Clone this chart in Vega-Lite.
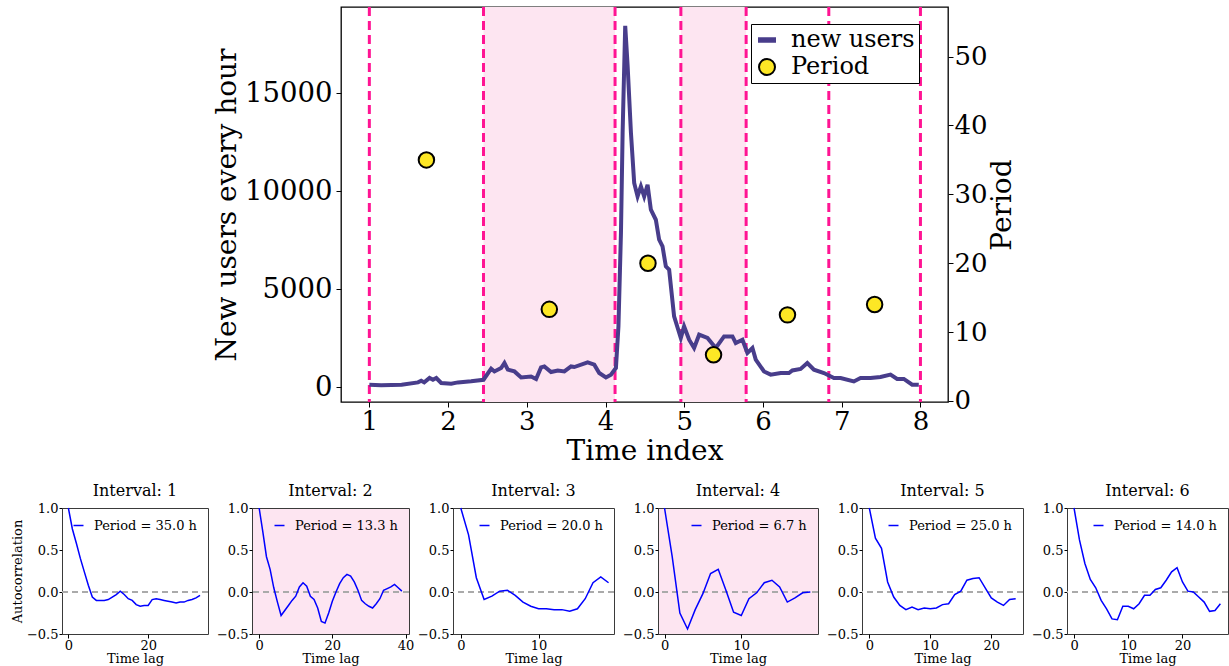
{
 "$schema": "https://vega.github.io/schema/vega-lite/v6.json",
 "padding": {"top": 4, "left": 10, "right": 0, "bottom": 0},
 "background": "white",
 "config": {
  "font": "DejaVu Serif",
  "view": {"stroke": "#3a3a3a"},
  "axis": {"labelFont": "DejaVu Serif", "titleFont": "DejaVu Serif", "labelColor": "black", "titleColor": "black", "titleFontWeight": "normal", "tickColor": "black", "grid": false, "domain": false, "labelFlush": false, "labelOverlap": false, "labelBound": false},
  "title": {"font": "DejaVu Serif", "fontWeight": "normal", "color": "black", "fontSize": 16, "offset": 3},
  "legend": {"labelFont": "DejaVu Serif", "labelColor": "black"}
 },
 "datasets": {
  "users": [{"t":1.0,"users":130},{"t":1.15,"users":100},{"t":1.41,"users":130},{"t":1.618,"users":245},{"t":1.659,"users":330},{"t":1.697,"users":245},{"t":1.765,"users":470},{"t":1.808,"users":380},{"t":1.85,"users":470},{"t":1.913,"users":215},{"t":2.04,"users":180},{"t":2.125,"users":245},{"t":2.293,"users":300},{"t":2.45,"users":380},{"t":2.547,"users":945},{"t":2.589,"users":805},{"t":2.674,"users":980},{"t":2.716,"users":1235},{"t":2.759,"users":895},{"t":2.843,"users":805},{"t":2.928,"users":500},{"t":3.054,"users":550},{"t":3.118,"users":420},{"t":3.181,"users":1010},{"t":3.223,"users":1060},{"t":3.308,"users":775},{"t":3.393,"users":855},{"t":3.477,"users":805},{"t":3.562,"users":1060},{"t":3.603,"users":1030},{"t":3.773,"users":1265},{"t":3.857,"users":1150},{"t":3.92,"users":725},{"t":4.005,"users":500},{"t":4.069,"users":640},{"t":4.132,"users":980},{"t":4.164,"users":3100},{"t":4.196,"users":7880},{"t":4.217,"users":12970},{"t":4.25,"users":18440},{"t":4.281,"users":16370},{"t":4.323,"users":12970},{"t":4.364,"users":10420},{"t":4.407,"users":9735},{"t":4.449,"users":10245},{"t":4.491,"users":9735},{"t":4.534,"users":10330},{"t":4.576,"users":9055},{"t":4.639,"users":8545},{"t":4.681,"users":7525},{"t":4.724,"users":7185},{"t":4.766,"users":6165},{"t":4.808,"users":5995},{"t":4.871,"users":3610},{"t":4.956,"users":2510},{"t":4.998,"users":3100},{"t":5.062,"users":2425},{"t":5.125,"users":2000},{"t":5.189,"users":2680},{"t":5.295,"users":2510},{"t":5.4,"users":2000},{"t":5.506,"users":2590},{"t":5.612,"users":2590},{"t":5.654,"users":2255},{"t":5.739,"users":2425},{"t":5.802,"users":1745},{"t":5.866,"users":2000},{"t":5.908,"users":1405},{"t":6.013,"users":805},{"t":6.098,"users":640},{"t":6.225,"users":725},{"t":6.33,"users":725},{"t":6.373,"users":855},{"t":6.478,"users":930},{"t":6.563,"users":1235},{"t":6.647,"users":895},{"t":6.774,"users":725},{"t":6.901,"users":470},{"t":6.986,"users":470},{"t":7.154,"users":295},{"t":7.239,"users":470},{"t":7.366,"users":470},{"t":7.493,"users":520},{"t":7.62,"users":640},{"t":7.704,"users":420},{"t":7.789,"users":420},{"t":7.895,"users":128},{"t":7.979,"users":128}],
  "shade": [{"start": 2.45, "end": 4.121}, {"start": 4.957, "end": 5.786}],
  "bounds": [{"t": 1.0}, {"t": 2.45}, {"t": 4.121}, {"t": 4.957}, {"t": 5.786}, {"t": 6.836}, {"t": 8.0}],
  "periods": [{"mid": 1.725, "period": 35.0, "series": "Period"}, {"mid": 3.286, "period": 13.3, "series": "Period"}, {"mid": 4.539, "period": 20.0, "series": "Period"}, {"mid": 5.372, "period": 6.7, "series": "Period"}, {"mid": 6.311, "period": 12.5, "series": "Period"}, {"mid": 7.418, "period": 14.0, "series": "Period"}],
  "a1": [{"lag":0,"acf":1.0},{"lag":1,"acf":0.75},{"lag":2,"acf":0.58},{"lag":3,"acf":0.40},{"lag":4,"acf":0.24},{"lag":5,"acf":0.08},{"lag":6,"acf":-0.06},{"lag":7,"acf":-0.10},{"lag":8,"acf":-0.10},{"lag":9,"acf":-0.10},{"lag":10,"acf":-0.09},{"lag":11,"acf":-0.06},{"lag":12,"acf":-0.03},{"lag":13,"acf":0.01},{"lag":14,"acf":-0.03},{"lag":15,"acf":-0.08},{"lag":16,"acf":-0.10},{"lag":17,"acf":-0.15},{"lag":18,"acf":-0.17},{"lag":19,"acf":-0.16},{"lag":20,"acf":-0.16},{"lag":21,"acf":-0.09},{"lag":22,"acf":-0.08},{"lag":23,"acf":-0.09},{"lag":24,"acf":-0.10},{"lag":25,"acf":-0.11},{"lag":26,"acf":-0.12},{"lag":27,"acf":-0.13},{"lag":28,"acf":-0.12},{"lag":29,"acf":-0.12},{"lag":30,"acf":-0.10},{"lag":31,"acf":-0.09},{"lag":32,"acf":-0.07},{"lag":33,"acf":-0.04}],
  "a2": [{"lag":0,"acf":1.0},{"lag":1,"acf":0.72},{"lag":2,"acf":0.42},{"lag":3,"acf":0.27},{"lag":4,"acf":0.05},{"lag":5,"acf":-0.12},{"lag":6,"acf":-0.28},{"lag":7,"acf":-0.22},{"lag":8,"acf":-0.16},{"lag":9,"acf":-0.10},{"lag":10,"acf":-0.05},{"lag":11,"acf":0.06},{"lag":12,"acf":0.11},{"lag":13,"acf":0.07},{"lag":14,"acf":-0.05},{"lag":15,"acf":-0.09},{"lag":16,"acf":-0.19},{"lag":17,"acf":-0.35},{"lag":18,"acf":-0.37},{"lag":19,"acf":-0.25},{"lag":20,"acf":-0.11},{"lag":21,"acf":0.0},{"lag":22,"acf":0.1},{"lag":23,"acf":0.17},{"lag":24,"acf":0.21},{"lag":25,"acf":0.19},{"lag":26,"acf":0.12},{"lag":27,"acf":0.02},{"lag":28,"acf":-0.1},{"lag":29,"acf":-0.14},{"lag":30,"acf":-0.17},{"lag":31,"acf":-0.19},{"lag":32,"acf":-0.14},{"lag":33,"acf":-0.08},{"lag":34,"acf":0.02},{"lag":35,"acf":0.04},{"lag":36,"acf":0.06},{"lag":37,"acf":0.09},{"lag":38,"acf":0.05},{"lag":39,"acf":0.01}],
  "a3": [{"lag":0,"acf":1.0},{"lag":1,"acf":0.68},{"lag":2,"acf":0.17},{"lag":3,"acf":-0.09},{"lag":4,"acf":-0.05},{"lag":5,"acf":0.01},{"lag":6,"acf":0.02},{"lag":7,"acf":-0.04},{"lag":8,"acf":-0.12},{"lag":9,"acf":-0.17},{"lag":10,"acf":-0.2},{"lag":11,"acf":-0.2},{"lag":12,"acf":-0.21},{"lag":13,"acf":-0.21},{"lag":14,"acf":-0.23},{"lag":15,"acf":-0.2},{"lag":16,"acf":-0.08},{"lag":17,"acf":0.11},{"lag":18,"acf":0.18},{"lag":19,"acf":0.11}],
  "a4": [{"lag":0,"acf":1.0},{"lag":1,"acf":0.42},{"lag":2,"acf":-0.25},{"lag":3,"acf":-0.44},{"lag":4,"acf":-0.21},{"lag":5,"acf":-0.02},{"lag":6,"acf":0.22},{"lag":7,"acf":0.27},{"lag":8,"acf":0.02},{"lag":9,"acf":-0.24},{"lag":10,"acf":-0.28},{"lag":11,"acf":-0.08},{"lag":12,"acf":-0.01},{"lag":13,"acf":0.11},{"lag":14,"acf":0.14},{"lag":15,"acf":0.06},{"lag":16,"acf":-0.12},{"lag":17,"acf":-0.07},{"lag":18,"acf":-0.01},{"lag":19,"acf":0.0}],
  "a5": [{"lag":0,"acf":1.0},{"lag":1,"acf":0.64},{"lag":2,"acf":0.52},{"lag":3,"acf":0.12},{"lag":4,"acf":-0.06},{"lag":5,"acf":-0.16},{"lag":6,"acf":-0.21},{"lag":7,"acf":-0.18},{"lag":8,"acf":-0.21},{"lag":9,"acf":-0.19},{"lag":10,"acf":-0.2},{"lag":11,"acf":-0.19},{"lag":12,"acf":-0.15},{"lag":13,"acf":-0.14},{"lag":14,"acf":-0.03},{"lag":15,"acf":0.01},{"lag":16,"acf":0.14},{"lag":17,"acf":0.16},{"lag":18,"acf":0.17},{"lag":19,"acf":0.05},{"lag":20,"acf":-0.07},{"lag":21,"acf":-0.12},{"lag":22,"acf":-0.16},{"lag":23,"acf":-0.09},{"lag":24,"acf":-0.08}],
  "a6": [{"lag":0,"acf":1.0},{"lag":1,"acf":0.62},{"lag":2,"acf":0.34},{"lag":3,"acf":0.15},{"lag":4,"acf":0.05},{"lag":5,"acf":-0.1},{"lag":6,"acf":-0.2},{"lag":7,"acf":-0.32},{"lag":8,"acf":-0.33},{"lag":9,"acf":-0.17},{"lag":10,"acf":-0.17},{"lag":11,"acf":-0.2},{"lag":12,"acf":-0.14},{"lag":13,"acf":-0.04},{"lag":14,"acf":-0.04},{"lag":15,"acf":0.03},{"lag":16,"acf":0.05},{"lag":17,"acf":0.14},{"lag":18,"acf":0.24},{"lag":19,"acf":0.29},{"lag":20,"acf":0.12},{"lag":21,"acf":0.01},{"lag":22,"acf":0.0},{"lag":23,"acf":-0.06},{"lag":24,"acf":-0.12},{"lag":25,"acf":-0.23},{"lag":26,"acf":-0.22},{"lag":27,"acf":-0.14}],
  "labels": [{"iv": 1, "lbl": "Period = 35.0 h"}, {"iv": 2, "lbl": "Period = 13.3 h"}, {"iv": 3, "lbl": "Period = 20.0 h"}, {"iv": 4, "lbl": "Period = 6.7 h"}, {"iv": 5, "lbl": "Period = 25.0 h"}, {"iv": 6, "lbl": "Period = 14.0 h"}]
 },
 "spacing": 16,
 "resolve": {"scale": {"color": "independent", "fill": "independent", "stroke": "independent", "shape": "independent"}, "legend": {"color": "independent", "fill": "independent", "stroke": "independent", "shape": "independent"}},
 "vconcat": [
  {
   "spacing": 0,
   "resolve": {"legend": {"fill": "independent", "stroke": "independent", "shape": "independent"}},
   "hconcat": [
    {"width": 150, "height": 10, "data": {"values": []}, "mark": "point", "view": {"stroke": null}},
    {
     "width": 607, "height": 395,
     "view": {"stroke": "black", "strokeWidth": 1.3},
     "resolve": {"scale": {"y": "independent"}},
     "layer": [
      {"data": {"name": "shade"}, "mark": {"type": "rect", "color": "#fde5f1"},
       "encoding": {
        "x": {"field": "start", "type": "quantitative", "scale": {"domain": [0.64, 8.35], "nice": false, "zero": false},
              "axis": {"title": "Time index", "values": [1,2,3,4,5,6,7,8], "format": "d", "labelFontSize": 26, "titleFontSize": 28, "tickSize": 5, "labelPadding": 1, "titlePadding": 3}},
        "x2": {"field": "end"}}},
      {"data": {"name": "bounds"}, "mark": {"type": "rule", "color": "#ff1493", "strokeWidth": 3, "strokeDash": [9, 5]},
       "encoding": {"x": {"field": "t", "type": "quantitative"}}},
      {"data": {"name": "users"}, "mark": {"type": "line", "strokeWidth": 4, "color": "#483d8b"},
       "encoding": {
        "x": {"field": "t", "type": "quantitative"},
        "y": {"field": "users", "type": "quantitative", "scale": {"domain": [-755, 19400], "nice": false, "zero": false},
              "axis": {"title": "New users every hour", "values": [0, 5000, 10000, 15000], "format": "d", "labelFontSize": 27.5, "titleFontSize": 28, "tickSize": 5, "labelPadding": 4, "titlePadding": 3}}}},
      {"data": {"name": "periods"}, "mark": {"type": "point", "filled": true, "size": 240, "strokeWidth": 2, "opacity": 1},
       "encoding": {
        "x": {"field": "mid", "type": "quantitative"},
        "y": {"field": "period", "type": "quantitative", "scale": {"domain": [-0.15, 57.2], "nice": false, "zero": false},
              "axis": {"orient": "right", "title": "Period", "values": [0, 10, 20, 30, 40, 50], "labelFontSize": 26, "titleFontSize": 28, "tickSize": 5, "labelPadding": 1, "titlePadding": 1, "titleAngle": 270, "titleBaseline": "top"}},
        "fill": {"field": "series", "type": "nominal", "scale": {"domain": ["new users", "Period"], "range": ["#483d8b", "#fde725"]},
         "legend": {"title": null, "orient": "none", "legendX": 410, "legendY": 17, "labelFontSize": 24, "strokeColor": "black", "fillColor": "white", "padding": 4, "rowPadding": 3, "labelOffset": 12, "symbolSize": 256, "symbolStrokeWidth": 2}},
        "stroke": {"field": "series", "type": "nominal", "scale": {"domain": ["new users", "Period"], "range": ["#483d8b", "black"]},
         "legend": {"title": null, "orient": "none", "legendX": 410, "legendY": 17, "labelFontSize": 24, "strokeColor": "black", "fillColor": "white", "padding": 4, "rowPadding": 3, "labelOffset": 12, "symbolSize": 256, "symbolStrokeWidth": 2}},
        "shape": {"field": "series", "type": "nominal", "scale": {"domain": ["new users", "Period"], "range": ["M-1,-0.22H1V0.22H-1Z", "circle"]},
         "legend": {"title": null, "orient": "none", "legendX": 410, "legendY": 17, "labelFontSize": 24, "strokeColor": "black", "fillColor": "white", "padding": 4, "rowPadding": 3, "labelOffset": 12, "symbolSize": 256, "symbolStrokeWidth": 2}}}}
     ]
    }
   ]
  },
  {
   "hconcat": [
    {"width": 146, "height": 126, "title": "Interval: 1", "data": {"name": "a1"},
     "layer": [
      {"mark": {"type": "rule", "color": "#aaaaaa", "strokeWidth": 1.5, "strokeDash": [6, 4]}, "encoding": {"y": {"datum": 0, "type": "quantitative"}}},
      {"mark": {"type": "line", "strokeWidth": 1.5, "color": "#0000ff"},
       "encoding": {
        "x": {"field": "lag", "type": "quantitative", "scale": {"domain": [-1.6, 35.0], "nice": false, "zero": false}, "axis": {"title": "Time lag", "values": [0, 20], "labelFontSize": 13, "titleFontSize": 13, "tickSize": 4, "labelPadding": 1, "titlePadding": 0}},
        "y": {"field": "acf", "type": "quantitative", "scale": {"domain": [-0.5, 1.0], "nice": false, "zero": false}, "axis": {"title": "Autocorrelation", "values": [-0.5, 0, 0.5, 1], "format": ".1f", "labelFontSize": 13, "titleFontSize": 13, "tickSize": 3, "labelPadding": 1, "titlePadding": 2}}}},
      {"data": {"name": "labels"}, "transform": [{"filter": "datum.iv === 1"}], "mark": {"type": "point", "opacity": 0},
       "encoding": {"color": {"field": "lbl", "type": "nominal", "scale": {"range": ["#0000ff"]}, "legend": {"title": null, "orient": "top-right", "offset": 9, "padding": 2, "labelFontSize": 13, "symbolType": "stroke", "symbolSize": 100, "symbolStrokeWidth": 1.5, "symbolOpacity": 1, "labelOffset": 9}}}}
     ]},
    {"width": 157, "height": 126, "title": "Interval: 2", "data": {"name": "a2"}, "view": {"fill": "#fde5f1", "stroke": "#3a3a3a"},
     "layer": [
      {"mark": {"type": "rule", "color": "#aaaaaa", "strokeWidth": 1.5, "strokeDash": [6, 4]}, "encoding": {"y": {"datum": 0, "type": "quantitative"}}},
      {"mark": {"type": "line", "strokeWidth": 1.5, "color": "#0000ff"},
       "encoding": {
        "x": {"field": "lag", "type": "quantitative", "scale": {"domain": [-1.95, 40.95], "nice": false, "zero": false}, "axis": {"title": "Time lag", "values": [0, 20, 40], "labelFontSize": 13, "titleFontSize": 13, "tickSize": 4, "labelPadding": 1, "titlePadding": 0}},
        "y": {"field": "acf", "type": "quantitative", "scale": {"domain": [-0.5, 1.0], "nice": false, "zero": false}, "axis": {"title": null, "values": [-0.5, 0, 0.5, 1], "format": ".1f", "labelFontSize": 13, "tickSize": 3, "labelPadding": 1}}}},
      {"data": {"name": "labels"}, "transform": [{"filter": "datum.iv === 2"}], "mark": {"type": "point", "opacity": 0},
       "encoding": {"color": {"field": "lbl", "type": "nominal", "scale": {"range": ["#0000ff"]}, "legend": {"title": null, "orient": "top-right", "offset": 9, "padding": 2, "labelFontSize": 13, "symbolType": "stroke", "symbolSize": 100, "symbolStrokeWidth": 1.5, "symbolOpacity": 1, "labelOffset": 9}}}}
     ]},
    {"width": 161, "height": 126, "title": "Interval: 3", "data": {"name": "a3"},
     "layer": [
      {"mark": {"type": "rule", "color": "#aaaaaa", "strokeWidth": 1.5, "strokeDash": [6, 4]}, "encoding": {"y": {"datum": 0, "type": "quantitative"}}},
      {"mark": {"type": "line", "strokeWidth": 1.5, "color": "#0000ff"},
       "encoding": {
        "x": {"field": "lag", "type": "quantitative", "scale": {"domain": [-1.0, 19.7], "nice": false, "zero": false}, "axis": {"title": "Time lag", "values": [0, 10], "labelFontSize": 13, "titleFontSize": 13, "tickSize": 4, "labelPadding": 1, "titlePadding": 0}},
        "y": {"field": "acf", "type": "quantitative", "scale": {"domain": [-0.5, 1.0], "nice": false, "zero": false}, "axis": {"title": null, "values": [-0.5, 0, 0.5, 1], "format": ".1f", "labelFontSize": 13, "tickSize": 3, "labelPadding": 1}}}},
      {"data": {"name": "labels"}, "transform": [{"filter": "datum.iv === 3"}], "mark": {"type": "point", "opacity": 0},
       "encoding": {"color": {"field": "lbl", "type": "nominal", "scale": {"range": ["#0000ff"]}, "legend": {"title": null, "orient": "top-right", "offset": 9, "padding": 2, "labelFontSize": 13, "symbolType": "stroke", "symbolSize": 100, "symbolStrokeWidth": 1.5, "symbolOpacity": 1, "labelOffset": 9}}}}
     ]},
    {"width": 160, "height": 126, "title": "Interval: 4", "data": {"name": "a4"}, "view": {"fill": "#fde5f1", "stroke": "#3a3a3a"},
     "layer": [
      {"mark": {"type": "rule", "color": "#aaaaaa", "strokeWidth": 1.5, "strokeDash": [6, 4]}, "encoding": {"y": {"datum": 0, "type": "quantitative"}}},
      {"mark": {"type": "line", "strokeWidth": 1.5, "color": "#0000ff"},
       "encoding": {
        "x": {"field": "lag", "type": "quantitative", "scale": {"domain": [-0.85, 20.0], "nice": false, "zero": false}, "axis": {"title": "Time lag", "values": [0, 10], "labelFontSize": 13, "titleFontSize": 13, "tickSize": 4, "labelPadding": 1, "titlePadding": 0}},
        "y": {"field": "acf", "type": "quantitative", "scale": {"domain": [-0.5, 1.0], "nice": false, "zero": false}, "axis": {"title": null, "values": [-0.5, 0, 0.5, 1], "format": ".1f", "labelFontSize": 13, "tickSize": 3, "labelPadding": 1}}}},
      {"data": {"name": "labels"}, "transform": [{"filter": "datum.iv === 4"}], "mark": {"type": "point", "opacity": 0},
       "encoding": {"color": {"field": "lbl", "type": "nominal", "scale": {"range": ["#0000ff"]}, "legend": {"title": null, "orient": "top-right", "offset": 9, "padding": 2, "labelFontSize": 13, "symbolType": "stroke", "symbolSize": 100, "symbolStrokeWidth": 1.5, "symbolOpacity": 1, "labelOffset": 9}}}}
     ]},
    {"width": 161, "height": 126, "title": "Interval: 5", "data": {"name": "a5"},
     "layer": [
      {"mark": {"type": "rule", "color": "#aaaaaa", "strokeWidth": 1.5, "strokeDash": [6, 4]}, "encoding": {"y": {"datum": 0, "type": "quantitative"}}},
      {"mark": {"type": "line", "strokeWidth": 1.5, "color": "#0000ff"},
       "encoding": {
        "x": {"field": "lag", "type": "quantitative", "scale": {"domain": [-1.2, 25.2], "nice": false, "zero": false}, "axis": {"title": "Time lag", "values": [0, 10, 20], "labelFontSize": 13, "titleFontSize": 13, "tickSize": 4, "labelPadding": 1, "titlePadding": 0}},
        "y": {"field": "acf", "type": "quantitative", "scale": {"domain": [-0.5, 1.0], "nice": false, "zero": false}, "axis": {"title": null, "values": [-0.5, 0, 0.5, 1], "format": ".1f", "labelFontSize": 13, "tickSize": 3, "labelPadding": 1}}}},
      {"data": {"name": "labels"}, "transform": [{"filter": "datum.iv === 5"}], "mark": {"type": "point", "opacity": 0},
       "encoding": {"color": {"field": "lbl", "type": "nominal", "scale": {"range": ["#0000ff"]}, "legend": {"title": null, "orient": "top-right", "offset": 9, "padding": 2, "labelFontSize": 13, "symbolType": "stroke", "symbolSize": 100, "symbolStrokeWidth": 1.5, "symbolOpacity": 1, "labelOffset": 9}}}}
     ]},
    {"width": 161, "height": 126, "title": "Interval: 6", "data": {"name": "a6"},
     "layer": [
      {"mark": {"type": "rule", "color": "#aaaaaa", "strokeWidth": 1.5, "strokeDash": [6, 4]}, "encoding": {"y": {"datum": 0, "type": "quantitative"}}},
      {"mark": {"type": "line", "strokeWidth": 1.5, "color": "#0000ff"},
       "encoding": {
        "x": {"field": "lag", "type": "quantitative", "scale": {"domain": [-1.3, 28.4], "nice": false, "zero": false}, "axis": {"title": "Time lag", "values": [0, 10, 20], "labelFontSize": 13, "titleFontSize": 13, "tickSize": 4, "labelPadding": 1, "titlePadding": 0}},
        "y": {"field": "acf", "type": "quantitative", "scale": {"domain": [-0.5, 1.0], "nice": false, "zero": false}, "axis": {"title": null, "values": [-0.5, 0, 0.5, 1], "format": ".1f", "labelFontSize": 13, "tickSize": 3, "labelPadding": 1}}}},
      {"data": {"name": "labels"}, "transform": [{"filter": "datum.iv === 6"}], "mark": {"type": "point", "opacity": 0},
       "encoding": {"color": {"field": "lbl", "type": "nominal", "scale": {"range": ["#0000ff"]}, "legend": {"title": null, "orient": "top-right", "offset": 9, "padding": 2, "labelFontSize": 13, "symbolType": "stroke", "symbolSize": 100, "symbolStrokeWidth": 1.5, "symbolOpacity": 1, "labelOffset": 9}}}}
     ]}
   ],
   "spacing": 44,
   "bounds": "flush",
   "resolve": {"scale": {"x": "independent", "y": "independent", "color": "independent"}, "legend": {"color": "independent"}}
  }
 ]
}
